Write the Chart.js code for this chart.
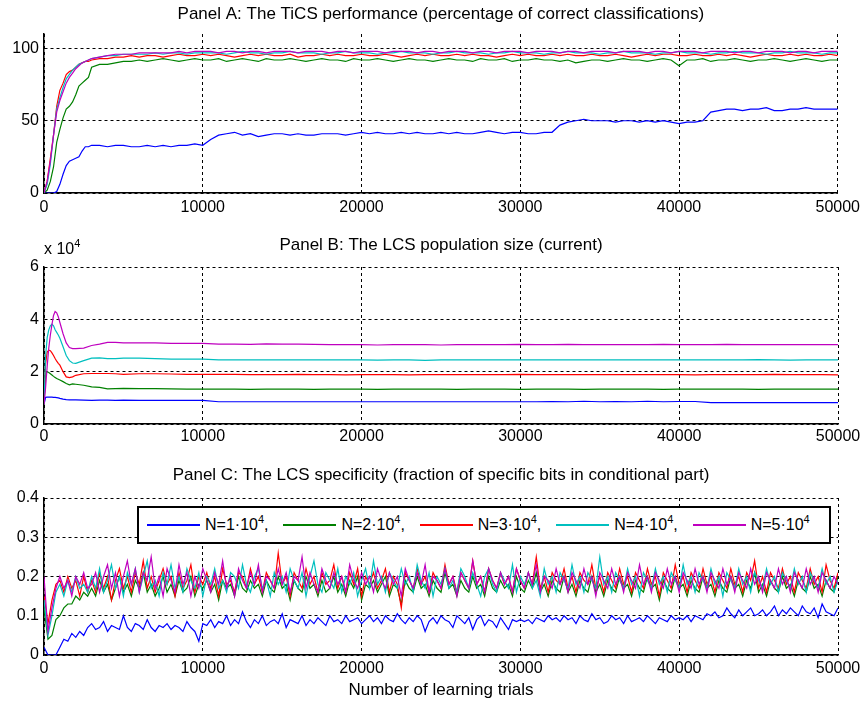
<!DOCTYPE html>
<html>
<head>
<meta charset="utf-8">
<script src="https://cdn.jsdelivr.net/npm/chart.js@4.4.1/dist/chart.umd.min.js"></script>
<style>
  body { margin:0; background:#fff; width:865px; height:702px; position:relative; overflow:hidden;
         font-family:"Liberation Sans", Arial, sans-serif; color:#000; }
  canvas { position:absolute; left:0; }
  #expo { position:absolute; left:44px; top:240px; font-size:16px; line-height:18px; }
  #expo sup { font-size:11px; vertical-align:7px; line-height:0; }
  #legend { position:absolute; left:137px; top:506px; width:694px; height:38px; box-sizing:border-box;
            border:2px solid #000; background:#fff; display:flex; align-items:center; padding-left:8px; }
  .item { width:139px; display:flex; align-items:center; font-size:16px; white-space:nowrap; }
  .swatch { display:block; width:53px; height:1.5px; margin-right:5px; }
  .item sup { font-size:11px; vertical-align:7px; line-height:0; }
</style>
</head>
<body>
<canvas id="panelA" width="865" height="215" style="top:0px"></canvas>
<canvas id="panelB" width="865" height="230" style="top:215px"></canvas>
<canvas id="panelC" width="865" height="257" style="top:445px"></canvas>
<div id="expo">x 10<sup>4</sup></div>
<div id="legend"></div>
<script>
const FONT = '"Liberation Sans", Arial, sans-serif'
const range = (a, b, s) => { const r = []; for (let v = a; v <= b; v += s) r.push(v); return r }

// population sizes (x 10^4) and MATLAB colours
const popSizes = [1, 2, 3, 4, 5]
const colors = ['#0000ff', '#008000', '#ff0000', '#00bfbf', '#bf00bf']

const xTicks = [0, 10000, 20000, 30000, 40000, 50000]
const yTicksA = [0, 50, 100]
const yTicksB = [0, 2, 4, 6]
const yTicksC = [0, 0.1, 0.2, 0.3, 0.4]

// ---- Panel A: performance (%) ----
const trialsA = range(0, 3000, 200).concat(range(3500, 50000, 500))
const perfBlue = [0,0,0,0,1,6,13,19,22,23,24,25,29,32,32,33,
  33,32,33,33,32,32,33,32,33,32,33,33,34,33,
  37,40,
  41,42,40,41,39,40,41,41,40,41, 40,40,41,41,41,40,41,42,41,42, 41,41,42,41,42,41,41,42,41,42, 41,41,42,43,42,41,42,42,41,41, 42,42,
  47,
  49,50,51,50,50,50,49,50,50,49, 50,49,50,49,48,49,49,50,
  56,
  57,58,58,57,58,58,59,57,57,58, 58,59,58,58,58,58]
const perfGreen = [0,2,8,18,35,44,52,58,60,63,68,74,76,78,80,87,
  89,89,90,91,91,92,91,92,93,92,91,92,93,92,
  92,93,91,92,93,92,91,93,92,92, 93,92,91,92,93,92,92,91,93,92,
  92,93,92,91,92,93,92,92,91,92, 93,92,92,91,93,92,92,93,91,92,
  92,93,92,92,91,92,90,91,92,92, 91,92,93,92,92,91,92,93,92,88,
  92,92,93,91,92,92,93,92,91,92, 92,93,92,91,92,93,92,91,92,92]
const perfRed = [0,8,24,40,60,71,76,82,84,85,87,89,90,91,91,92,
  93,93,94,94,95,94,95,95,94,95,96,95,95,96,
  95,96,95,94,95,96,95,96,95,95, 96,94,95,95,96,95,96,95,95,96,
  95,95,96,95,94,95,96,95,96,95, 95,96,95,96,95,95,94,95,96,95,
  96,95,95,96,95,96,95,95,96,95, 95,96,95,94,95,96,95,96,96,95,
  95,96,95,95,96,95,96,95,94,95, 96,95,95,96,95,96,95,95,96,95]
const perfCyan = [0,6,20,40,58,66,73,79,82,85,87,89,90,91,92,93,
  94,95,95,96,96,96,96,97,96,97,97,96,97,97,
  97,97,96,97,98,97,97,96,97,97, 98,97,97,97,96,97,97,98,97,97,
  97,96,97,97,98,97,97,97,96,97, 97,98,97,97,97,96,97,97,98,97,
  97,97,96,97,97,98,97,97,97,96, 97,97,98,97,97,97,96,97,97,98,
  97,97,97,96,97,97,98,97,97,97, 96,97,97,98,97,97,97,96,97,97]
const perfMagenta = [0,8,22,40,56,64,70,76,80,83,86,88,90,91,92,93,
  94,95,96,96,96,97,97,97,97,97,98,97,98,98,
  98,97,98,98,97,98,98,97,98,98, 98,97,98,98,98,97,98,98,97,98,
  98,98,97,98,98,98,97,98,98,97, 98,98,98,97,98,98,97,98,98,98,
  97,98,98,98,97,98,98,97,98,98, 98,97,98,98,98,97,98,98,97,98,
  98,98,97,98,98,98,97,98,98,97, 98,98,98,97,98,98,97,98,98,98]

// ---- Panel B: population size (x 10^4) ----
const trialsB = range(0, 1000, 100).concat(range(1200, 2000, 200), range(2500, 5000, 500), range(6000, 50000, 1000))
const sizeBlue = [.75,1.02,1.03,1.03,1.03,1.03,1.02,1.02,1.01,1.0,.98,.95,.93,.92,.92,.92,.91,.9,.91,.91,.9,.91,
  .9,.9,.9,.9,.9,
  .85,.85,.85,.85,.85,.85,.85,.85,.85,.85,.85,.85,.85,.85,.85,.85,.85,.85,.85,.85,.85,
  .86,.85,.87,.85,.86,.85,.87,.85,.86,.86,
  .82,.82,.82,.82,.82,.82,.82,.82,.82]
const sizeGreen = [.75,1.9,2.0,1.97,1.92,1.87,1.82,1.78,1.74,1.71,1.68,1.62,1.55,1.5,1.53,1.52,1.48,1.42,1.4,1.34,1.35,1.36,
  1.35,1.35,1.34,1.33,1.33, 1.33,1.33,1.32,1.33,1.33, 1.33,1.32,1.33,1.33,1.33, 1.32,1.33,1.33,1.33,1.33,
  1.32,1.33,1.33,1.33,1.32, 1.33,1.33,1.33,1.32,1.33, 1.33,1.33,1.33,1.32,1.33, 1.33,1.33,1.33,1.33,1.32,
  1.33,1.33,1.33,1.33,1.33]
const sizeRed = [.75,2.3,2.75,2.82,2.8,2.72,2.62,2.5,2.4,2.32,2.25,2.0,1.8,1.77,1.8,1.86,1.92,1.93,1.93,1.93,1.92,1.9,
  1.92,1.92,1.91,1.9,1.9, 1.9,1.9,1.89,1.89,1.89, 1.9,1.89,1.89,1.88,1.89, 1.89,1.89,1.88,1.89,1.89,
  1.89,1.89,1.89,1.89,1.9, 1.89,1.89,1.89,1.89,1.89, 1.89,1.89,1.89,1.89,1.89, 1.88,1.89,1.89,1.89,1.89,
  1.9,1.89,1.89,1.89,1.88]
const sizeCyan = [.75,2.6,3.3,3.6,3.75,3.82,3.75,3.6,3.5,3.4,3.28,2.95,2.62,2.42,2.33,2.32,2.42,2.52,2.53,2.5,2.5,2.52,
  2.52,2.5,2.48,2.48,2.48, 2.45,2.45,2.45,2.45,2.45, 2.45,2.45,2.45,2.45,2.45, 2.44,2.45,2.45,2.43,2.45,
  2.45,2.45,2.45,2.45,2.45, 2.45,2.45,2.45,2.45,2.45, 2.45,2.45,2.45,2.45,2.45, 2.45,2.45,2.45,2.45,2.46,
  2.45,2.44,2.45,2.45,2.45]
const sizeMagenta = [.75,1.4,2.2,2.9,3.4,3.8,4.15,4.3,4.25,4.1,3.88,3.45,3.1,2.92,2.88,2.88,2.9,3.0,3.05,3.12,3.12,3.1,
  3.1,3.1,3.08,3.08,3.08, 3.05,3.05,3.04,3.06,3.05, 3.05,3.04,3.03,3.03,3.03, 3.02,3.03,3.03,3.03,3.02,
  3.03,3.03,3.03,3.03,3.04, 3.03,3.03,3.04,3.03,3.03, 3.03,3.03,3.03,3.04,3.03, 3.03,3.03,3.04,3.03,3.03,
  3.03,3.03,3.03,3.03,3.03]

// ---- Panel C: specificity ----
const trialsC = range(0, 50000, 250)
const specBlue = [.02,0,0,0,.02,.04,.035,.055,.045,.06,.05,.07,
  .08,.065,.07,.085,.06,.075,.07,.065,.1,.07,.06,.08,.075,.065,.09,.07,.06,.075,.07,.08,.065,.075,.07,.06,.085,.07,.06,.035,.08,
  .075,.09,.07,.085,.08,.1,.075,.09,.08,.11,.085,.07,.09,.08,.1,.075,.085,.09,.08,.105,.07,.09,.085,.08,.1,.075,.09,.08,.095,.085,.075,.1,.085,.09,.08,.1,.085,.09,.095,.08,
  .09,.1,.085,.095,.08,.1,.09,.085,.105,.09,.08,.095,.085,.1,.09,.06,.085,.095,.08,.1,.09,.085,.07,.1,.09,.08,.095,.065,.09,.1,.075,.09,.085,.07,.095,.08,.065,.09,.085,.09,
  .085,.09,.08,.095,.09,.085,.1,.09,.095,.085,.1,.09,.095,.08,.1,.09,.085,.105,.09,.095,.08,.085,.1,.09,.095,.08,.1,.085,.09,.095,.085,.1,.09,.08,.095,.09,.085,.1,.09,.095,
  .09,.1,.085,.1,.095,.09,.105,.1,.11,.095,.1,.12,.105,.095,.115,.1,.11,.12,.1,.105,.115,.1,.11,.125,.1,.115,.105,.12,.11,.1,.125,.11,.105,.12,.095,.13,.11,.105,.1,.12]
const specGreen = [.12,.04,.05,.09,.1,.12,.13,.13,.15,.14,.16,.15,
  .17,.15,.19,.16,.18,.14,.17,.2,.16,.18, .15,.19,.17,.21,.16,.18,.15,.17,.2,.16,
  .18,.15,.19,.16,.17,.2,.15,.18,.17,.19, .16,.18,.14,.19,.17,.18,.15,.2,.17,.16,
  .19,.17,.18,.15,.19,.17,.16,.2,.17,.18, .14,.19,.17,.16,.2,.17,.18,.15,.19,.16,
  .17,.2,.16,.18,.15,.19,.17,.2,.14,.18, .17,.19,.16,.18,.2,.15,.18,.17,.13,.19,
  .17,.16,.2,.17,.18,.15,.19,.17,.16,.21, .17,.18,.15,.19,.17,.16,.2,.17,.18,.15,
  .2,.17,.16,.19,.17,.18,.15,.2,.17,.16, .19,.17,.21,.16,.18,.15,.19,.17,.16,.2,
  .16,.18,.15,.19,.17,.16,.2,.16,.18,.15, .19,.17,.16,.2,.17,.18,.15,.19,.17,.16,
  .2,.17,.18,.14,.19,.17,.16,.2,.17,.18, .15,.19,.17,.16,.2,.17,.18,.15,.19,.17,
  .16,.2,.17,.18,.15,.19,.17,.21,.16,.18, .15,.19,.17,.16,.2,.17,.18,.15,.19,.17,
  .16,.2,.17,.18,.15,.19,.17,.16,.2]
const specRed = [.15,.08,.14,.18,.19,.16,.2,.17,.19,.15,.2,.16,
  .19,.16,.21,.17,.2,.14,.19,.22,.17,.2, .16,.21,.18,.24,.17,.2,.16,.19,.22,.18,
  .2,.15,.21,.17,.19,.23,.16,.2,.18,.21, .17,.2,.15,.22,.18,.19,.16,.21,.2,.17,
  .22,.18,.2,.16,.21,.19,.17,.26,.18,.2, .15,.21,.19,.17,.22,.18,.2,.16,.21,.18,
  .19,.23,.17,.2,.16,.21,.18,.22,.15,.2, .18,.21,.17,.19,.22,.16,.2,.18,.12,.21,
  .19,.17,.22,.18,.2,.16,.21,.19,.17,.23, .18,.2,.16,.21,.19,.17,.24,.18,.2,.16,
  .22,.19,.17,.21,.18,.2,.16,.22,.19,.17, .21,.18,.25,.17,.2,.16,.21,.19,.18,.22,
  .17,.2,.16,.21,.19,.18,.23,.17,.2,.16, .21,.19,.17,.22,.18,.2,.16,.21,.19,.17,
  .22,.18,.2,.15,.21,.19,.17,.23,.18,.2, .16,.21,.19,.17,.22,.18,.2,.16,.21,.19,
  .17,.22,.18,.2,.16,.21,.19,.24,.17,.2, .16,.21,.19,.17,.22,.18,.2,.16,.21,.19,
  .17,.22,.18,.2,.16,.23,.19,.17,.21]
const specCyan = [.14,.05,.1,.16,.18,.15,.19,.16,.2,.17,.18,.16,
  .2,.17,.22,.16,.19,.23,.17,.2,.15,.21, .18,.22,.16,.2,.24,.17,.19,.15,.21,.18,
  .23,.17,.2,.16,.22,.19,.17,.21,.15,.2, .18,.22,.17,.19,.16,.21,.2,.17,.23,.18,
  .16,.2,.22,.17,.19,.15,.21,.18,.2,.16, .22,.19,.17,.21,.15,.2,.24,.18,.16,.21,
  .19,.17,.22,.16,.2,.18,.21,.15,.19,.22, .17,.24,.18,.2,.16,.21,.19,.17,.22,.18,
  .2,.16,.23,.19,.17,.21,.15,.2,.18,.22, .17,.19,.16,.22,.2,.17,.21,.18,.15,.2,
  .22,.18,.16,.21,.19,.17,.23,.16,.2,.18, .21,.17,.19,.15,.22,.18,.2,.16,.21,.19,
  .17,.23,.18,.2,.16,.21,.19,.17,.25,.18, .2,.16,.21,.19,.17,.22,.18,.2,.15,.21,
  .19,.17,.22,.18,.2,.16,.21,.19,.17,.23, .18,.2,.16,.21,.19,.17,.22,.18,.2,.15,
  .21,.19,.17,.22,.18,.2,.16,.21,.19,.17, .22,.18,.2,.16,.21,.19,.17,.22,.18,.2,
  .16,.21,.19,.17,.22,.18,.2,.16,.19]
const specMagenta = [.2,.06,.12,.17,.2,.17,.19,.15,.2,.18,.21,.17,
  .18,.21,.16,.2,.23,.17,.21,.15,.2,.24, .18,.22,.16,.21,.19,.25,.17,.2,.15,.22,
  .19,.16,.23,.18,.21,.15,.2,.17,.22,.19, .16,.21,.18,.24,.17,.2,.15,.22,.19,.17,
  .21,.18,.23,.16,.2,.19,.17,.22,.18,.21, .16,.2,.19,.25,.17,.21,.18,.16,.22,.19,
  .17,.21,.18,.2,.16,.23,.19,.17,.21,.18, .2,.16,.22,.19,.17,.21,.18,.2,.15,.22,
  .19,.17,.21,.18,.23,.16,.2,.19,.17,.22, .18,.2,.15,.21,.19,.17,.24,.18,.2,.16,
  .22,.19,.17,.21,.18,.2,.16,.22,.19,.17, .21,.18,.23,.16,.2,.19,.17,.22,.18,.2,
  .16,.21,.19,.17,.22,.18,.2,.15,.21,.19, .17,.22,.18,.2,.16,.21,.19,.17,.23,.18,
  .2,.16,.21,.19,.17,.22,.18,.2,.16,.21, .19,.17,.22,.18,.2,.16,.21,.19,.17,.22,
  .18,.2,.16,.21,.19,.17,.22,.18,.2,.16, .21,.19,.17,.22,.18,.2,.16,.21,.19,.17,
  .22,.18,.2,.16,.21,.19,.17,.2,.18]

Chart.defaults.font.family = FONT
Chart.defaults.color = '#000'

const lineSets = (xs, series) => series.map((ys, i) => ({
  label: 'N=' + popSizes[i] + '·10⁴',
  data: ys.map((y, j) => ({ x: xs[j], y: y })),
  borderColor: colors[i],
  borderWidth: 1.2,
  pointRadius: 0,
  tension: 0,
  fill: false,
  order: popSizes.length - i   // blue drawn first, magenta on top
}))

const gridScale = (ticks, extra, pad) => Object.assign({
  type: 'linear',
  min: ticks[0],
  max: ticks[ticks.length - 1],
  afterBuildTicks: s => { s.ticks = ticks.map(v => ({ value: v })) },
  ticks: { color: '#000', font: { size: 16 }, padding: pad, maxRotation: 0, autoSkip: false, callback: v => String(v) },
  grid: { color: '#000', lineWidth: 1, drawTicks: false },
  border: { color: '#000', width: 1.5, dash: [3, 3] }
}, extra)

const makePanel = (id, p) => new Chart(document.getElementById(id), {
  type: 'line',
  data: { datasets: lineSets(p.xs, p.series) },
  options: {
    responsive: false,
    animation: false,
    events: [],
    layout: { padding: { left: 0, right: 27, top: 0, bottom: 0 } },
    plugins: {
      legend: { display: false },
      tooltip: { enabled: false },
      title: { display: true, text: p.title, fullSize: false, color: '#000',
               font: { size: 17, weight: 'normal' }, padding: { top: p.titleTop, bottom: p.titleBottom } }
    },
    scales: {
      x: gridScale(xTicks, {
        afterFit: s => { s.height = p.xHeight },
        title: p.xTitle ? { display: true, text: p.xTitle, color: '#000', font: { size: 17 }, padding: { top: 0, bottom: 1 } } : { display: false }
      }, p.xPad),
      y: Object.assign(gridScale(p.yTicks, { afterFit: s => { s.width = 44 } }, 5), { max: p.ymax })
    }
  }
})

makePanel('panelA', {
  xs: trialsA, series: [perfBlue, perfGreen, perfRed, perfCyan, perfMagenta],
  title: 'Panel A: The TiCS performance (percentage of correct classifications)',
  titleTop: 4, titleBottom: 9.6, xHeight: 22, xPad: 5, yTicks: yTicksA, ymax: 110
})
makePanel('panelB', {
  xs: trialsB, series: [sizeBlue, sizeGreen, sizeRed, sizeCyan, sizeMagenta],
  title: 'Panel B: The LCS population size (current)',
  titleTop: 19.8, titleBottom: 11.8, xHeight: 21, xPad: 3, yTicks: yTicksB, ymax: 6
})
makePanel('panelC', {
  xs: trialsC, series: [specBlue, specGreen, specRed, specCyan, specMagenta],
  title: 'Panel C: The LCS specificity (fraction of specific bits in conditional part)',
  titleTop: 19.8, titleBottom: 12.8, xHeight: 47, xPad: 4, yTicks: yTicksC, ymax: 0.4,
  xTitle: 'Number of learning trials'
})

// legend box of panel C
const legend = document.getElementById('legend')
popSizes.forEach((n, i) => {
  const item = document.createElement('div')
  item.className = 'item'
  item.innerHTML = '<span class="swatch" style="background:' + colors[i] + '"></span>' +
    '<span>N=' + n + '·10<sup>4</sup>' + (i < popSizes.length - 1 ? ',' : '') + '</span>'
  legend.appendChild(item)
})
</script>
</body>
</html>
